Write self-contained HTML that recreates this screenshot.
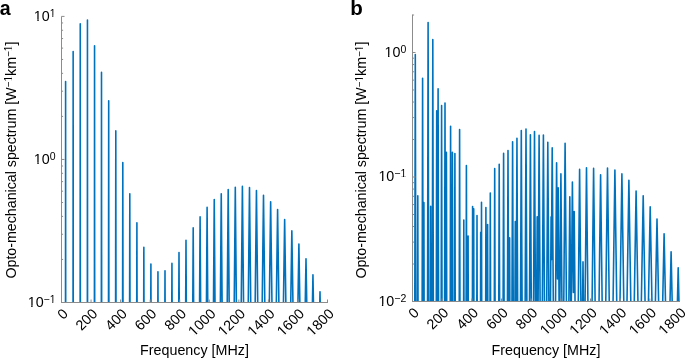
<!DOCTYPE html><html><head><meta charset="utf-8"><style>html,body{margin:0;padding:0;background:#fff;width:685px;height:358px;overflow:hidden}svg{display:block;will-change:transform}text{font-family:"Liberation Sans",sans-serif}</style></head><body><svg width="685" height="358" viewBox="0 0 685 358"><defs><clipPath id="ca"><rect x="61.5" y="0" width="268.0" height="302.5"/></clipPath><clipPath id="cb"><rect x="412.5" y="0" width="269.0" height="301.5"/></clipPath></defs><path clip-path="url(#ca)" fill="none" stroke="#0072BD" stroke-width="1.6" stroke-linejoin="round" d="M61.00 305.50L65.50 305.50L65.55 224.65L65.60 81.60L65.65 224.65L65.70 305.50L73.05 305.50L73.10 194.65L73.15 51.60L73.20 194.65L73.25 305.50L80.15 305.50L80.20 166.95L80.25 23.90L80.30 166.95L80.35 305.50L87.35 305.50L87.40 163.05L87.45 20.00L87.50 163.05L87.55 305.50L94.40 305.50L94.45 260.35L94.55 45.70L94.65 260.35L94.70 305.50L101.30 305.50L101.35 300.76L101.50 72.40L101.65 300.76L101.70 305.50L108.50 305.50L108.55 270.32L108.70 100.80L108.85 270.32L108.90 305.50L115.60 305.50L115.65 262.63L115.80 130.90L115.95 262.63L116.00 305.50L122.55 305.50L122.60 303.70L122.80 162.50L123.00 303.70L123.05 305.50L129.60 305.50L129.65 280.87L129.80 193.70L129.95 280.87L130.00 305.50L136.70 305.50L136.75 295.66L136.90 222.70L137.05 295.66L137.10 305.50L143.70 305.50L143.75 288.90L143.85 247.40L143.95 288.90L144.00 305.50L150.75 305.50L150.80 299.90L150.90 264.10L151.00 299.90L151.05 305.50L157.80 305.50L157.85 302.92L157.95 271.70L158.05 302.92L158.10 305.50L164.85 305.50L164.90 298.30L165.00 270.80L165.10 298.30L165.15 305.50L171.75 305.50L171.80 300.10L171.95 263.40L172.10 300.10L172.15 305.50L178.75 305.50L178.80 296.37L179.00 252.60L179.20 296.37L179.25 305.50L185.65 305.50L185.70 299.46L186.00 240.30L186.30 299.46L186.35 305.50L192.75 305.50L192.80 299.19L193.20 227.90L193.60 299.19L193.65 305.50L199.55 305.50L199.60 298.19L200.10 216.90L200.60 298.19L200.65 305.50L206.40 305.50L206.45 304.11L207.10 207.40L207.75 304.11L207.80 305.50L213.45 305.50L213.50 301.86L214.25 199.50L215.00 301.86L215.05 305.50L220.35 305.50L220.40 300.72L221.25 193.70L222.10 300.72L222.15 305.50L227.20 305.50L227.25 300.38L228.20 189.60L229.15 300.38L229.20 305.50L234.20 305.50L234.25 300.79L235.30 187.20L236.35 300.79L236.40 305.50L241.20 305.50L241.25 302.16L242.40 186.40L243.55 302.16L243.60 305.50L248.20 305.50L248.25 305.00L249.50 187.60L250.75 305.00L250.80 305.50L255.10 305.50L255.15 304.97L256.45 190.60L257.75 304.97L257.80 305.50L262.15 305.50L262.20 302.59L263.50 195.30L264.80 302.59L264.85 305.50L269.30 305.50L269.35 302.48L270.65 201.70L271.95 302.48L272.00 305.50L276.25 305.50L276.30 304.62L277.60 209.60L278.90 304.62L278.95 305.50L283.40 305.50L283.45 302.28L284.65 219.50L285.85 302.28L285.90 305.50L290.70 305.50L290.75 302.57L291.85 230.90L292.95 302.57L293.00 305.50L297.90 305.50L297.95 302.63L298.90 244.00L299.85 302.63L299.90 305.50L305.20 305.50L305.25 302.69L306.00 258.80L306.75 302.69L306.80 305.50L312.35 305.50L312.40 305.40L312.95 274.80L313.50 305.40L319.70 305.50L319.75 304.94L320.00 291.70L320.25 304.94L320.30 305.50L327.95 305.50"/><path clip-path="url(#cb)" fill="none" stroke="#0072BD" stroke-width="1.6" stroke-linejoin="round" d="M412.00 304.50L414.75 304.50L414.80 303.60L415.30 54.60L415.80 303.60L415.85 304.50L417.55 304.50L417.60 295.40L417.80 195.80L418.00 295.40L418.05 304.50L422.10 304.50L422.15 302.40L422.60 78.30L423.05 302.40L423.10 304.50L423.65 304.50L423.70 302.20L423.90 202.60L424.10 302.20L424.15 304.50L427.50 304.50L427.55 296.50L428.10 22.60L428.65 296.50L428.70 304.50L430.50 304.50L430.55 281.10L430.70 206.40L430.85 281.10L430.90 304.50L432.25 304.50L432.30 288.60L432.80 39.60L433.30 288.60L433.35 304.50L436.30 304.50L436.35 285.10L436.70 110.80L437.05 285.10L437.10 304.50L437.65 304.50L437.70 288.00L438.10 88.80L438.50 288.00L438.55 304.50L441.20 304.50L441.25 279.90L441.60 105.60L441.95 279.90L442.00 304.50L444.55 304.50L444.60 302.20L445.00 103.00L445.40 302.20L445.45 304.50L446.05 304.50L446.10 301.80L446.40 152.40L446.70 301.80L446.75 304.50L450.20 304.50L450.25 300.50L450.60 126.20L450.95 300.50L451.00 304.50L452.05 304.50L452.10 301.80L452.40 152.40L452.70 301.80L452.75 304.50L454.55 304.50L454.60 303.00L454.90 153.60L455.20 303.00L455.25 304.50L459.20 304.50L459.25 303.90L459.60 129.60L459.95 303.90L460.00 304.50L463.60 304.50L463.65 294.80L463.80 220.10L463.95 294.80L464.00 304.50L466.10 304.50L466.15 290.10L466.40 165.60L466.65 290.10L466.70 304.50L467.95 304.50L468.00 285.90L468.10 236.10L468.20 285.90L468.25 304.50L472.40 304.50L472.45 281.20L472.60 206.50L472.75 281.20L472.80 304.50L473.50 304.50L473.55 283.50L473.70 208.80L473.85 283.50L473.90 304.50L476.80 304.50L476.85 290.30L477.00 215.60L477.15 290.30L477.20 304.50L480.55 304.50L480.60 282.20L480.70 232.40L480.80 282.20L480.85 304.50L481.25 304.50L481.30 301.80L481.50 202.20L481.70 301.80L481.75 304.50L485.65 304.50L485.70 297.06L485.90 207.60L486.10 297.06L486.15 304.50L487.40 304.50L487.45 288.99L487.60 224.60L487.75 288.99L487.80 304.50L490.00 304.50L490.05 293.70L490.30 193.00L490.55 293.70L490.60 304.50L494.30 304.50L494.35 296.29L494.70 168.60L495.05 296.29L495.10 304.50L498.75 304.50L498.80 296.78L499.20 164.20L499.60 296.78L499.65 304.50L503.10 304.50L503.15 289.84L503.60 153.40L504.05 289.84L504.10 304.50L507.40 304.50L507.45 303.68L508.00 150.50L508.55 303.68L508.60 304.50L509.35 304.50L509.40 291.96L509.60 237.90L509.80 291.96L509.85 304.50L511.95 304.50L512.00 295.24L512.60 141.70L513.20 295.24L513.25 304.50L514.95 304.50L515.00 294.78L515.30 221.60L515.60 294.78L515.65 304.50L516.20 304.50L516.25 304.23L516.95 138.30L517.65 304.23L517.70 304.50L520.50 304.50L520.55 295.69L521.30 130.50L522.05 295.69L522.10 304.50L525.10 304.50L525.15 302.49L526.00 129.00L526.85 302.49L526.90 304.50L529.50 304.50L529.55 296.81L530.40 134.80L531.25 296.81L531.30 304.50L533.50 304.50L533.55 301.77L534.50 131.50L535.45 301.77L535.50 304.50L536.65 304.50L536.70 302.95L537.20 216.80L537.70 302.95L537.75 304.50L538.05 304.50L538.10 303.08L539.10 135.40L540.10 303.08L540.15 304.50L542.30 304.50L542.35 300.79L543.40 135.00L544.45 300.79L544.50 304.50L546.70 304.50L546.75 298.51L547.80 142.30L548.85 298.51L548.90 304.50L550.45 304.50L550.50 302.37L551.10 216.90L551.40 259.64L551.45 253.23L552.20 147.90L553.30 302.39L553.35 304.50L555.50 304.50L555.55 302.26L556.60 162.80L557.45 275.70L557.50 279.04L558.20 187.90L559.05 298.57L559.10 304.50L559.85 304.50L559.90 299.87L560.90 173.90L561.90 299.87L561.95 304.50L563.75 304.50L563.80 298.94L565.10 143.20L566.40 298.94L566.45 304.50L568.85 304.46L569.80 196.70L570.75 304.46L571.25 304.50L571.30 303.25L572.40 182.10L573.40 292.23L573.45 292.55L574.20 211.60L575.05 303.35L575.10 304.50L578.25 304.50L578.30 301.66L579.60 169.40L580.90 301.66L580.95 304.50L582.55 304.50L582.60 301.15L583.00 261.90L583.40 301.15L583.45 304.50L585.05 304.50L585.10 300.23L586.50 167.80L587.90 300.23L587.95 304.50L592.05 304.50L592.10 300.44L593.60 168.40L595.10 300.44L595.15 304.50L599.00 304.50L599.05 302.13L600.60 174.70L602.15 302.13L602.20 304.50L605.70 304.50L605.75 302.84L607.50 168.00L609.25 302.84L609.30 304.50L613.00 304.50L613.05 303.30L614.90 170.00L616.75 303.30L616.80 304.50L619.95 304.50L620.00 302.68L621.90 173.90L623.80 302.68L623.85 304.50L626.95 304.50L627.00 301.58L628.90 180.20L630.80 301.58L630.85 304.50L634.20 304.50L634.25 302.52L636.10 191.10L637.95 302.52L638.00 304.50L641.25 304.50L641.30 303.97L643.20 195.80L645.10 303.97L645.15 304.50L648.35 304.50L648.40 304.01L650.20 206.90L652.00 304.01L652.05 304.50L655.30 304.50L655.35 303.71L657.00 219.10L658.65 303.71L658.70 304.50L662.60 304.50L662.65 304.32L664.10 233.70L665.55 304.32L665.60 304.50L669.95 304.50L670.00 302.69L671.10 251.70L672.20 302.69L672.25 304.50L677.35 304.50L677.40 303.02L678.20 267.70L679.00 303.02L679.05 304.50L679.95 304.50"/><g stroke="#8c8c8c" stroke-width="1" fill="none"><path d="M61.5 303.0V16.4" /><path d="M61.5 302.50h3.0" /><path d="M61.5 259.44h1.6" /><path d="M61.5 234.25h1.6" /><path d="M61.5 216.38h1.6" /><path d="M61.5 202.51h1.6" /><path d="M61.5 191.19h1.6" /><path d="M61.5 181.61h1.6" /><path d="M61.5 173.31h1.6" /><path d="M61.5 166.00h1.6" /><path d="M61.5 159.45h3.0" /><path d="M61.5 116.39h1.6" /><path d="M61.5 91.20h1.6" /><path d="M61.5 73.33h1.6" /><path d="M61.5 59.46h1.6" /><path d="M61.5 48.14h1.6" /><path d="M61.5 38.56h1.6" /><path d="M61.5 30.26h1.6" /><path d="M61.5 22.95h1.6" /><path d="M61.5 16.40h3.0" /><path d="M61.0 302.5H328.0" /><path d="M61.50 302.5v-3.0" /><path d="M91.06 302.5v-3.0" /><path d="M120.61 302.5v-3.0" /><path d="M150.17 302.5v-3.0" /><path d="M179.72 302.5v-3.0" /><path d="M209.28 302.5v-3.0" /><path d="M238.83 302.5v-3.0" /><path d="M268.39 302.5v-3.0" /><path d="M297.94 302.5v-3.0" /><path d="M327.50 302.5v-3.0" /><path d="M412.5 302.0V14.5" /><path d="M412.5 301.50h3.0" /><path d="M412.5 264.02h1.6" /><path d="M412.5 242.10h1.6" /><path d="M412.5 226.54h1.6" /><path d="M412.5 214.48h1.6" /><path d="M412.5 204.62h1.6" /><path d="M412.5 196.29h1.6" /><path d="M412.5 189.07h1.6" /><path d="M412.5 182.70h1.6" /><path d="M412.5 177.00h3.0" /><path d="M412.5 139.52h1.6" /><path d="M412.5 117.60h1.6" /><path d="M412.5 102.04h1.6" /><path d="M412.5 89.98h1.6" /><path d="M412.5 80.12h1.6" /><path d="M412.5 71.79h1.6" /><path d="M412.5 64.57h1.6" /><path d="M412.5 58.20h1.6" /><path d="M412.5 52.50h3.0" /><path d="M412.5 15.02h1.6" /><path d="M412.0 301.5H680.0" /><path d="M412.50 301.5v-3.0" /><path d="M442.17 301.5v-3.0" /><path d="M471.83 301.5v-3.0" /><path d="M501.50 301.5v-3.0" /><path d="M531.17 301.5v-3.0" /><path d="M560.83 301.5v-3.0" /><path d="M590.50 301.5v-3.0" /><path d="M620.17 301.5v-3.0" /><path d="M649.83 301.5v-3.0" /><path d="M679.50 301.5v-3.0" /></g><g font-size="14.3" fill="#000"><text x="68.80" y="314.50" text-anchor="end" transform="rotate(-45 68.80 314.50)">0</text><text x="98.36" y="314.50" text-anchor="end" transform="rotate(-45 98.36 314.50)">200</text><text x="127.91" y="314.50" text-anchor="end" transform="rotate(-45 127.91 314.50)">400</text><text x="157.47" y="314.50" text-anchor="end" transform="rotate(-45 157.47 314.50)">600</text><text x="187.02" y="314.50" text-anchor="end" transform="rotate(-45 187.02 314.50)">800</text><text x="216.58" y="314.50" text-anchor="end" transform="rotate(-45 216.58 314.50)">1000</text><text x="246.13" y="314.50" text-anchor="end" transform="rotate(-45 246.13 314.50)">1200</text><text x="275.69" y="314.50" text-anchor="end" transform="rotate(-45 275.69 314.50)">1400</text><text x="305.24" y="314.50" text-anchor="end" transform="rotate(-45 305.24 314.50)">1600</text><text x="334.80" y="314.50" text-anchor="end" transform="rotate(-45 334.80 314.50)">1800</text><text x="419.80" y="313.50" text-anchor="end" transform="rotate(-45 419.80 313.50)">0</text><text x="449.47" y="313.50" text-anchor="end" transform="rotate(-45 449.47 313.50)">200</text><text x="479.13" y="313.50" text-anchor="end" transform="rotate(-45 479.13 313.50)">400</text><text x="508.80" y="313.50" text-anchor="end" transform="rotate(-45 508.80 313.50)">600</text><text x="538.47" y="313.50" text-anchor="end" transform="rotate(-45 538.47 313.50)">800</text><text x="568.13" y="313.50" text-anchor="end" transform="rotate(-45 568.13 313.50)">1000</text><text x="597.80" y="313.50" text-anchor="end" transform="rotate(-45 597.80 313.50)">1200</text><text x="627.47" y="313.50" text-anchor="end" transform="rotate(-45 627.47 313.50)">1400</text><text x="657.13" y="313.50" text-anchor="end" transform="rotate(-45 657.13 313.50)">1600</text><text x="686.80" y="313.50" text-anchor="end" transform="rotate(-45 686.80 313.50)">1800</text><text x="55.6" y="20.70" text-anchor="end">10<tspan font-size="10.5" dy="-3.9">1</tspan></text><text x="55.6" y="163.75" text-anchor="end">10<tspan font-size="10.5" dy="-3.9">0</tspan></text><text x="55.6" y="306.80" text-anchor="end">10<tspan font-size="10.5" dy="-3.9">−1</tspan></text><text x="406.3" y="56.80" text-anchor="end">10<tspan font-size="10.5" dy="-3.9">0</tspan></text><text x="406.3" y="181.30" text-anchor="end">10<tspan font-size="10.5" dy="-3.9">−1</tspan></text><text x="406.3" y="305.80" text-anchor="end">10<tspan font-size="10.5" dy="-3.9">−2</tspan></text><text x="194.5" y="354.6" font-size="15.4" text-anchor="middle" textLength="108.8" lengthAdjust="spacingAndGlyphs">Frequency [MHz]</text><text x="546.0" y="354.6" font-size="15.4" text-anchor="middle" textLength="108.8" lengthAdjust="spacingAndGlyphs">Frequency [MHz]</text><text x="15.8" y="160.1" font-size="14.9" text-anchor="middle" textLength="237.0" lengthAdjust="spacingAndGlyphs" transform="rotate(-90 15.8 160.1)">Opto-mechanical spectrum [W<tspan font-size="10.5" dy="-3.6">−1</tspan><tspan dy="3.6">km</tspan><tspan font-size="10.5" dy="-3.6">−1</tspan><tspan dy="3.6">]</tspan></text><text x="366.3" y="160.1" font-size="14.9" text-anchor="middle" textLength="237.0" lengthAdjust="spacingAndGlyphs" transform="rotate(-90 366.3 160.1)">Opto-mechanical spectrum [W<tspan font-size="10.5" dy="-3.6">−1</tspan><tspan dy="3.6">km</tspan><tspan font-size="10.5" dy="-3.6">−1</tspan><tspan dy="3.6">]</tspan></text><text x="-0.3" y="15" font-size="21" font-weight="bold" textLength="10.9" lengthAdjust="spacingAndGlyphs">a</text><text x="350.3" y="15" font-size="20.5" font-weight="bold">b</text></g><g fill="#fff"><g transform="rotate(-45 216.58 314.50)"><rect x="184.96" y="313.18" width="3.31" height="1.97"/><rect x="189.63" y="313.18" width="2.99" height="1.97"/></g><g transform="rotate(-45 246.13 314.50)"><rect x="214.51" y="313.18" width="3.31" height="1.97"/><rect x="219.18" y="313.18" width="2.99" height="1.97"/></g><g transform="rotate(-45 275.69 314.50)"><rect x="244.07" y="313.18" width="3.31" height="1.97"/><rect x="248.74" y="313.18" width="2.99" height="1.97"/></g><g transform="rotate(-45 305.24 314.50)"><rect x="273.62" y="313.18" width="3.31" height="1.97"/><rect x="278.29" y="313.18" width="2.99" height="1.97"/></g><g transform="rotate(-45 334.80 314.50)"><rect x="303.18" y="313.18" width="3.31" height="1.97"/><rect x="307.85" y="313.18" width="2.99" height="1.97"/></g><g transform="rotate(-45 568.13 313.50)"><rect x="536.51" y="312.18" width="3.31" height="1.97"/><rect x="541.18" y="312.18" width="2.99" height="1.97"/></g><g transform="rotate(-45 597.80 313.50)"><rect x="566.18" y="312.18" width="3.31" height="1.97"/><rect x="570.85" y="312.18" width="2.99" height="1.97"/></g><g transform="rotate(-45 627.47 313.50)"><rect x="595.85" y="312.18" width="3.31" height="1.97"/><rect x="600.52" y="312.18" width="2.99" height="1.97"/></g><g transform="rotate(-45 657.13 313.50)"><rect x="625.51" y="312.18" width="3.31" height="1.97"/><rect x="630.18" y="312.18" width="2.99" height="1.97"/></g><g transform="rotate(-45 686.80 313.50)"><rect x="655.18" y="312.18" width="3.31" height="1.97"/><rect x="659.85" y="312.18" width="2.99" height="1.97"/></g><rect x="34.04" y="19.38" width="3.31" height="1.97"/><rect x="38.71" y="19.38" width="2.99" height="1.97"/><rect x="49.66" y="15.77" width="2.64" height="1.68"/><rect x="53.32" y="15.77" width="2.36" height="1.68"/><rect x="34.04" y="162.43" width="3.31" height="1.97"/><rect x="38.71" y="162.43" width="2.99" height="1.97"/><rect x="27.90" y="305.48" width="3.31" height="1.97"/><rect x="32.57" y="305.48" width="2.99" height="1.97"/><rect x="49.64" y="301.87" width="2.64" height="1.68"/><rect x="53.31" y="301.87" width="2.36" height="1.68"/><rect x="384.74" y="55.48" width="3.31" height="1.97"/><rect x="389.41" y="55.48" width="2.99" height="1.97"/><rect x="378.60" y="179.98" width="3.31" height="1.97"/><rect x="383.27" y="179.98" width="2.99" height="1.97"/><rect x="400.34" y="176.37" width="2.64" height="1.68"/><rect x="404.01" y="176.37" width="2.36" height="1.68"/><rect x="378.60" y="304.48" width="3.31" height="1.97"/><rect x="383.27" y="304.48" width="2.99" height="1.97"/><g transform="rotate(-90 15.8 160.1)"><rect x="94.21" y="155.47" width="2.56" height="1.68"/><rect x="97.76" y="155.47" width="2.28" height="1.68"/></g><g transform="rotate(-90 15.8 160.1)"><rect x="124.62" y="155.47" width="2.56" height="1.68"/><rect x="128.16" y="155.47" width="2.28" height="1.68"/></g><g transform="rotate(-90 366.3 160.1)"><rect x="444.71" y="155.47" width="2.56" height="1.68"/><rect x="448.26" y="155.47" width="2.28" height="1.68"/></g><g transform="rotate(-90 366.3 160.1)"><rect x="475.12" y="155.47" width="2.56" height="1.68"/><rect x="478.66" y="155.47" width="2.28" height="1.68"/></g></g></svg></body></html>
